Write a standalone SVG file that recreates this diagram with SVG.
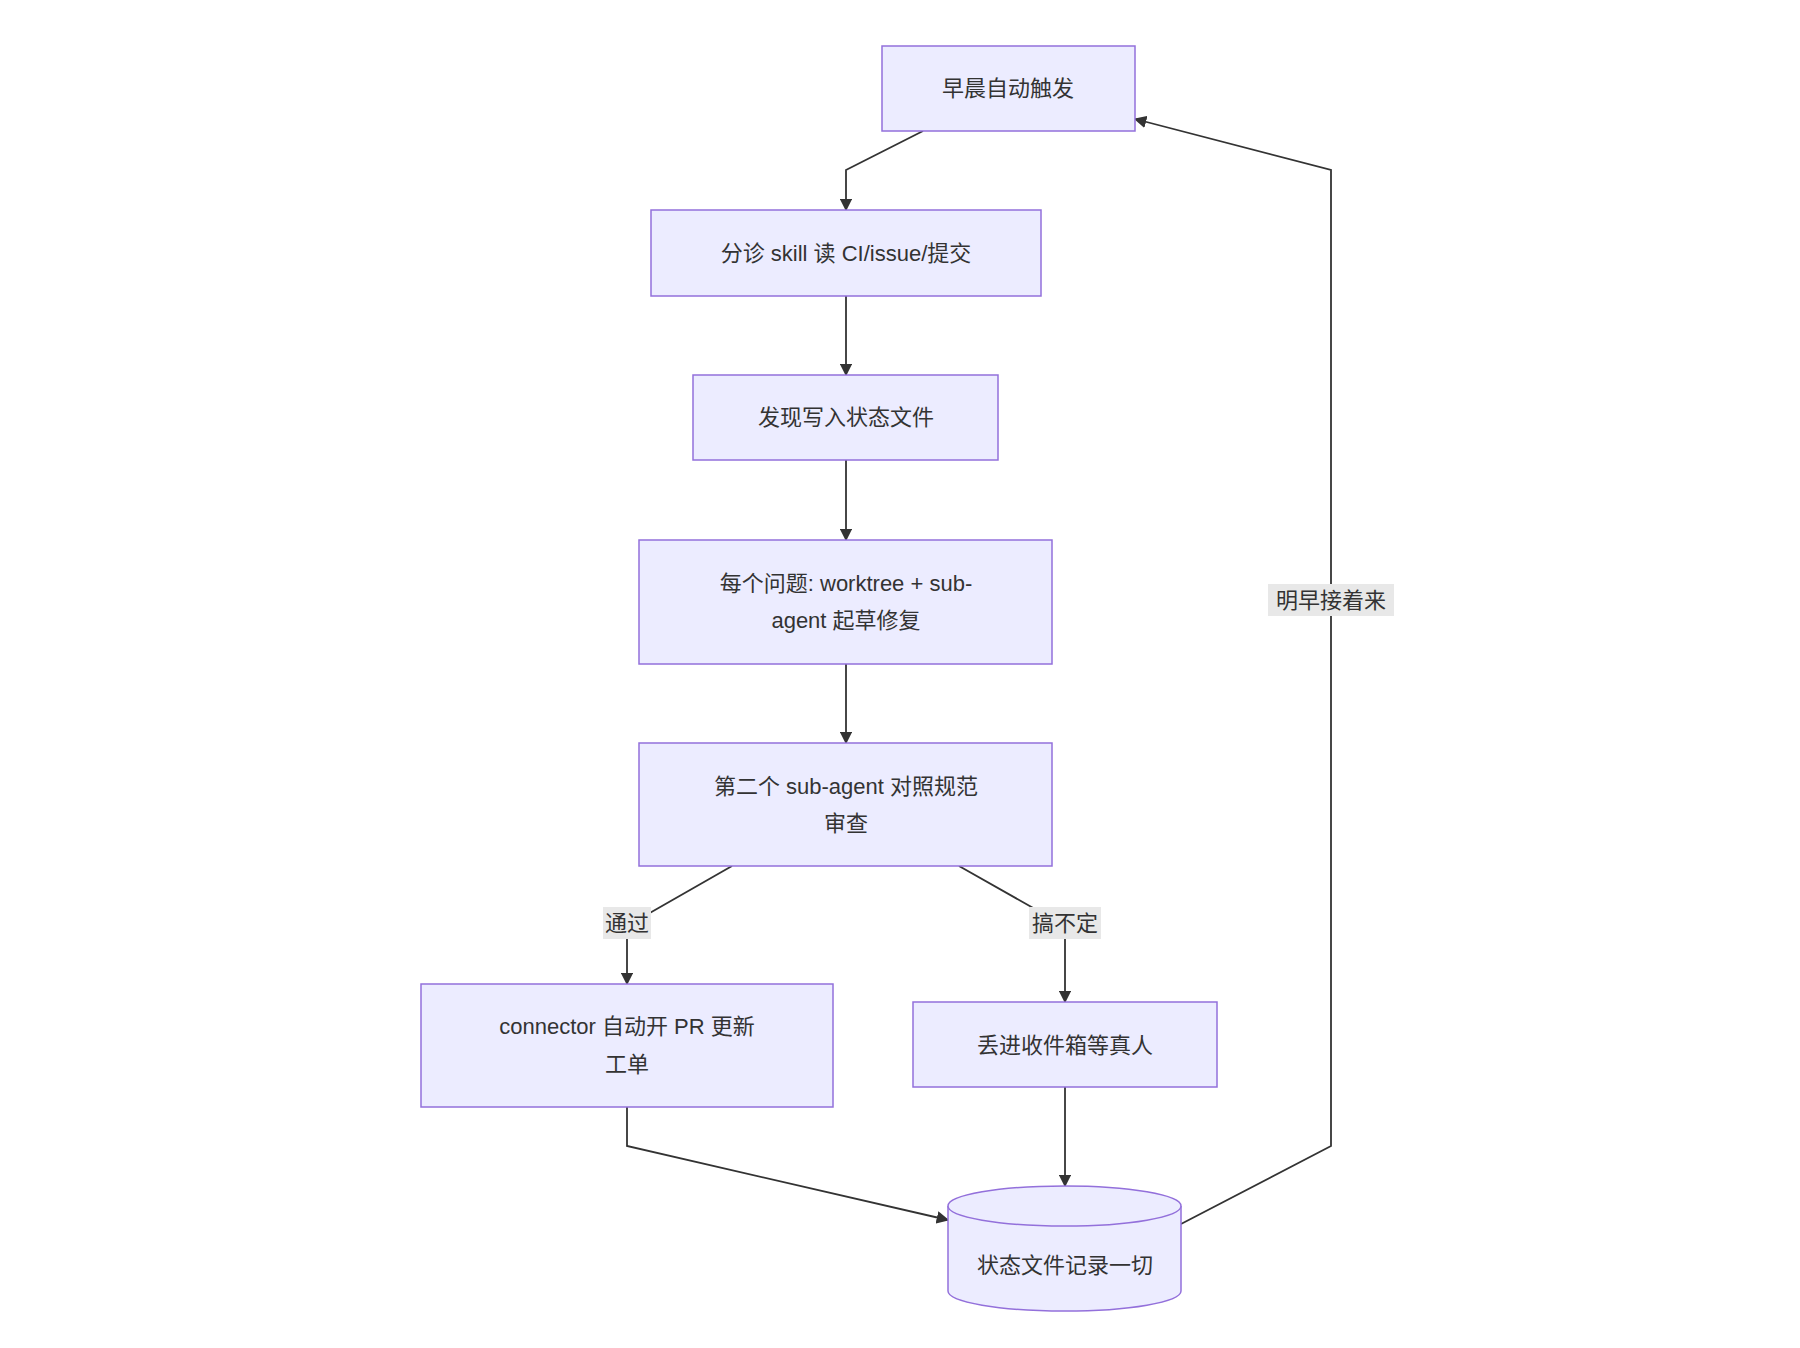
<svg xmlns="http://www.w3.org/2000/svg" width="1800" height="1348" viewBox="0 0 1800 1348">
<style>
.n{fill:#ECECFF;stroke:#9370DB;stroke-width:1.5}
.t{font-family:"Liberation Sans","Noto Sans CJK SC",sans-serif;font-size:22px;fill:#333;text-anchor:middle;dominant-baseline:central}
.e{fill:none;stroke:#333;stroke-width:1.8}
.lb{fill:#e8e8e8}
</style>
<defs><marker id="a" viewBox="0 0 10 10" refX="9" refY="5" markerWidth="7" markerHeight="7" orient="auto"><path d="M0,0L10,5L0,10z" fill="#333"/></marker></defs>
<rect width="1800" height="1348" fill="#fff"/>
<g id="edges">
<path class="e" marker-end="url(#a)" d="M923,131L846,170L846,210"/>
<path class="e" marker-end="url(#a)" d="M846,296L846,375"/>
<path class="e" marker-end="url(#a)" d="M846,460L846,540"/>
<path class="e" marker-end="url(#a)" d="M846,664L846,743"/>
<path class="e" marker-end="url(#a)" d="M732,866L627,926L627,984"/>
<path class="e" marker-end="url(#a)" d="M959,866L1065,926L1065,1002"/>
<path class="e" marker-end="url(#a)" d="M1065,1087L1065,1186"/>
<path class="e" marker-end="url(#a)" d="M627,1107L627,1146L948,1220"/>
<path class="e" marker-end="url(#a)" d="M1181,1224L1331,1146L1331,170L1135,119"/>
<rect class="lb" x="603" y="907" width="48" height="32"/><text class="t" x="627" y="923">通过</text>
<rect class="lb" x="1029" y="907" width="72" height="32"/><text class="t" x="1065" y="923">搞不定</text>
<rect class="lb" x="1268" y="584" width="126" height="32"/><text class="t" x="1331" y="600">明早接着来</text>
</g>
<g id="n1"><rect class="n" x="882" y="46" width="253" height="85"/><text class="t" x="1008" y="88">早晨自动触发</text></g>
<g id="n2"><rect class="n" x="651" y="210" width="390" height="86"/><text class="t" x="846" y="253">分诊 skill 读 CI/issue/提交</text></g>
<g id="n3"><rect class="n" x="693" y="375" width="305" height="85"/><text class="t" x="846" y="417">发现写入状态文件</text></g>
<g id="n4"><rect class="n" x="639" y="540" width="413" height="124"/><text class="t" x="846" y="583">每个问题: worktree + sub-</text><text class="t" x="846" y="620">agent 起草修复</text></g>
<g id="n5"><rect class="n" x="639" y="743" width="413" height="123"/><text class="t" x="846" y="786">第二个 sub-agent 对照规范</text><text class="t" x="846" y="823">审查</text></g>
<g id="n6"><rect class="n" x="421" y="984" width="412" height="123"/><text class="t" x="627" y="1026">connector 自动开 PR 更新</text><text class="t" x="627" y="1064">工单</text></g>
<g id="n7"><rect class="n" x="913" y="1002" width="304" height="85"/><text class="t" x="1065" y="1045">丢进收件箱等真人</text></g>
<g id="n8"><path class="n" d="M948,1206A116.5,20 0 0 1 1181,1206L1181,1291A116.5,20 0 0 1 948,1291Z"/><path class="n" fill="none" d="M948,1206A116.5,20 0 0 0 1181,1206"/><text class="t" x="1065" y="1265">状态文件记录一切</text></g>
</svg>
